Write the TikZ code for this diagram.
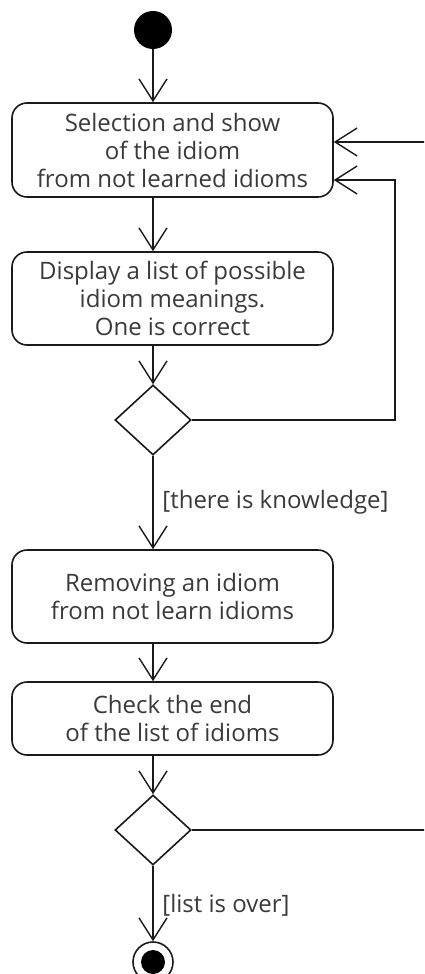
\documentclass[tikz,border=0pt]{standalone}
\usepackage{fontspec}
\setmainfont{Open Sans}
\usetikzlibrary{arrows.meta,shapes.geometric}
\definecolor{ink}{HTML}{1A1A1A}
\definecolor{txt}{HTML}{3A3A3A}
\begin{document}
\begin{tikzpicture}[x=0.5pt,y=-0.5pt,
  font=\fontsize{12}{14}\selectfont,
  flow/.style={draw=ink,line width=0.8pt,
    -{Straight Barb[length=11pt,width=14pt,line width=0.7pt]}},
  action/.style={draw=ink,line width=0.8pt,rounded corners=7.5pt,
    minimum width=160.5pt,text=txt,align=center,inner sep=0pt},
  choice/.style={draw=ink,line width=0.8pt,diamond,inner sep=0pt,
    minimum width=38pt,minimum height=35pt},
  guard/.style={text=txt,anchor=west,inner sep=0pt}]
\clip (0,0) rectangle (424,974);
\fill[white] (0,0) rectangle (424,974);

% start and end states
\node[circle,fill=black,minimum size=19pt,inner sep=0pt] (start) at (153,30) {};
\node[circle,draw=ink,line width=0.8pt,minimum size=20pt,inner sep=0pt] (stop) at (153,962) {};
\fill[black] (stop.center) circle (6pt);

% actions
\node[action,minimum height=47pt] (select) at (172.5,150)
  {Selection and show\\of the idiom\\from not learned idioms};
\node[action,minimum height=46.5pt] (show) at (172.5,298.5)
  {Display a list of possible\\idiom meanings.\\One is correct};
\node[action,minimum height=46.5pt] (remove) at (172.5,596.5)
  {Removing an idiom\\from not learn idioms};
\node[action,minimum height=36.5pt] (check) at (172.5,718.5)
  {Check the end\\of the list of idioms};

% decisions
\node[choice] (know) at (153,420) {};
\node[choice] (over) at (153,830) {};

% guards
\node[guard] (gknow) at (162,502) {[there is knowledge]};
\node[guard] (gover) at (162,905) {[list is over]};

% loop corners
\coordinate (retry) at (395,420);
\coordinate (next) at (440,830);

% transitions
\draw[flow] (start) -- (start |- select.north);
\draw[flow] (start |- select.south) -- (start |- show.north);
\draw[flow] (start |- show.south) -- (know.north);
\draw[flow] (know.south) -- (start |- remove.north);
\draw[flow] (start |- remove.south) -- (start |- check.north);
\draw[flow] (start |- check.south) -- (over.north);
\draw[flow] (over.south) -- (stop.north);
\draw[flow] (know.east) -- (retry) -- (retry |- 0,180) -- (select.east |- 0,180);
\draw[flow] (over.east) -- (next) -- (next |- 0,142) -- (select.east |- 0,142);
\end{tikzpicture}
\end{document}
